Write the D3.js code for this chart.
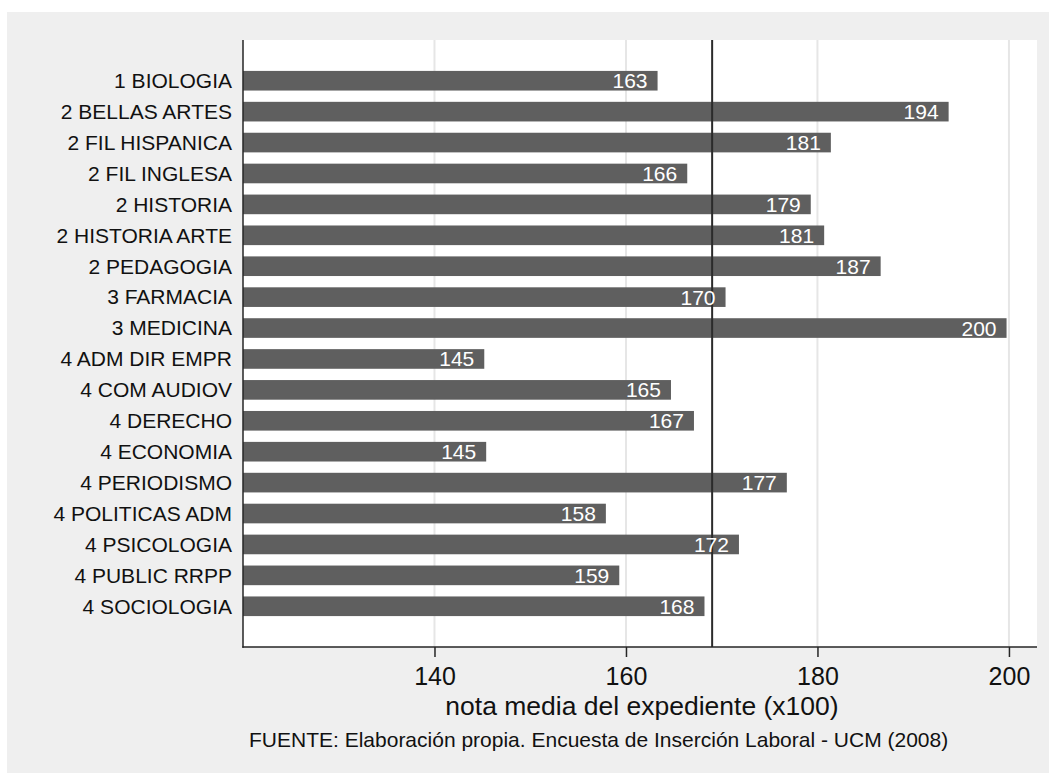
<!DOCTYPE html>
<html>
<head>
<meta charset="utf-8">
<script src="https://cdn.jsdelivr.net/npm/d3@7"></script>
<style>
  html, body { margin: 0; padding: 0; background: #ffffff; }
  svg { display: block; }
  text { font-family: "Liberation Sans", Arial, Helvetica, sans-serif; }
</style>
</head>
<body>
<svg id="chart" width="1049" height="773"></svg>
<script>
const categories = ["1 BIOLOGIA", "2 BELLAS ARTES", "2 FIL HISPANICA", "2 FIL INGLESA", "2 HISTORIA",
  "2 HISTORIA ARTE", "2 PEDAGOGIA", "3 FARMACIA", "3 MEDICINA", "4 ADM DIR EMPR", "4 COM AUDIOV",
  "4 DERECHO", "4 ECONOMIA", "4 PERIODISMO", "4 POLITICAS ADM", "4 PSICOLOGIA", "4 PUBLIC RRPP", "4 SOCIOLOGIA"];
const values = [163.3, 193.7, 181.4, 166.4, 179.3, 180.7, 186.6, 170.4, 199.75, 145.2, 164.7,
  167.1, 145.4, 176.8, 157.9, 171.8, 159.3, 168.2];
const xTicks = [140, 160, 180, 200];
const meanValue = 169;
const xTitle = "nota media del expediente (x100)";
const noteText = "FUENTE: Elaboración propia. Encuesta de Inserción Laboral - UCM (2008)";

const svg = d3.select("#chart");
const W = 1049, H = 773;
const plot = { left: 243, right: 1037, top: 40, bottom: 647 };

// outer background
svg.append("rect").attr("x", 7).attr("y", 12).attr("width", W - 7).attr("height", H - 12)
  .attr("fill", "#efefef");
// plot region
svg.append("rect").attr("x", plot.left).attr("y", plot.top)
  .attr("width", plot.right - plot.left).attr("height", plot.bottom - plot.top)
  .attr("fill", "#ffffff");

const x = d3.scaleLinear().domain([120, 202.93]).range([plot.left, plot.right]);
const y = d3.scaleBand().domain(categories).range([plot.top, plot.bottom])
  .paddingInner(0.365).paddingOuter(1.0);

const data = categories.map((c, i) => ({ cat: c, value: values[i] }));

// gridlines
svg.append("g").selectAll("line").data(xTicks).join("line")
  .attr("x1", d => x(d)).attr("x2", d => x(d))
  .attr("y1", plot.top).attr("y2", plot.bottom)
  .attr("stroke", "#e6e6e6").attr("stroke-width", 2);

// bars
svg.append("g").selectAll("rect").data(data).join("rect")
  .attr("x", x(120)).attr("y", d => y(d.cat))
  .attr("width", d => x(d.value) - x(120)).attr("height", y.bandwidth())
  .attr("fill", "#5f5f5f");

// mean line
svg.append("line")
  .attr("x1", x(meanValue)).attr("x2", x(meanValue))
  .attr("y1", plot.top).attr("y2", plot.bottom)
  .attr("stroke", "#2b2b2b").attr("stroke-width", 2);

// value labels
const fmt = d3.format(".0f");
svg.append("g").selectAll("text").data(data).join("text")
  .attr("x", d => x(d.value) - 10)
  .attr("y", d => y(d.cat) + y.bandwidth() / 2 + 7.5)
  .attr("text-anchor", "end")
  .attr("fill", "#ffffff")
  .attr("font-size", 21)
  .text(d => fmt(d.value));

// y axis (categories)
const yAxis = d3.axisLeft(y).tickSize(0).tickPadding(11);
const gy = svg.append("g").attr("transform", `translate(${plot.left},0)`).call(yAxis);
gy.select(".domain").remove();
gy.selectAll("text").attr("font-size", 21).attr("fill", "#111").attr("dy", "0.35em")
  .style("font-family", '"Liberation Sans", Arial, sans-serif');
svg.append("line").attr("x1", plot.left).attr("x2", plot.left)
  .attr("y1", plot.top).attr("y2", plot.bottom + 0.75)
  .attr("stroke", "#262626").attr("stroke-width", 1.5);

// x axis
const xAxis = d3.axisBottom(x).tickValues(xTicks).tickSize(10).tickPadding(10).tickFormat(d3.format("d"));
const gx = svg.append("g").attr("transform", `translate(0,${plot.bottom})`).call(xAxis);
gx.select(".domain").remove();
gx.selectAll(".tick line").attr("stroke", "#262626").attr("stroke-width", 1.5);
gx.selectAll("text").attr("font-size", 25).attr("fill", "#111")
  .style("font-family", '"Liberation Sans", Arial, sans-serif');
svg.append("line").attr("x1", plot.left - 0.75).attr("x2", plot.right)
  .attr("y1", plot.bottom).attr("y2", plot.bottom)
  .attr("stroke", "#262626").attr("stroke-width", 1.5);

// axis title
svg.append("text").attr("x", (plot.left + plot.right) / 2 + 2).attr("y", 715)
  .attr("text-anchor", "middle").attr("font-size", 26.5).attr("fill", "#111")
  .text(xTitle);

// note
svg.append("text").attr("x", 249).attr("y", 747)
  .attr("text-anchor", "start").attr("font-size", 21).attr("fill", "#111")
  .text(noteText);
</script>
</body>
</html>
